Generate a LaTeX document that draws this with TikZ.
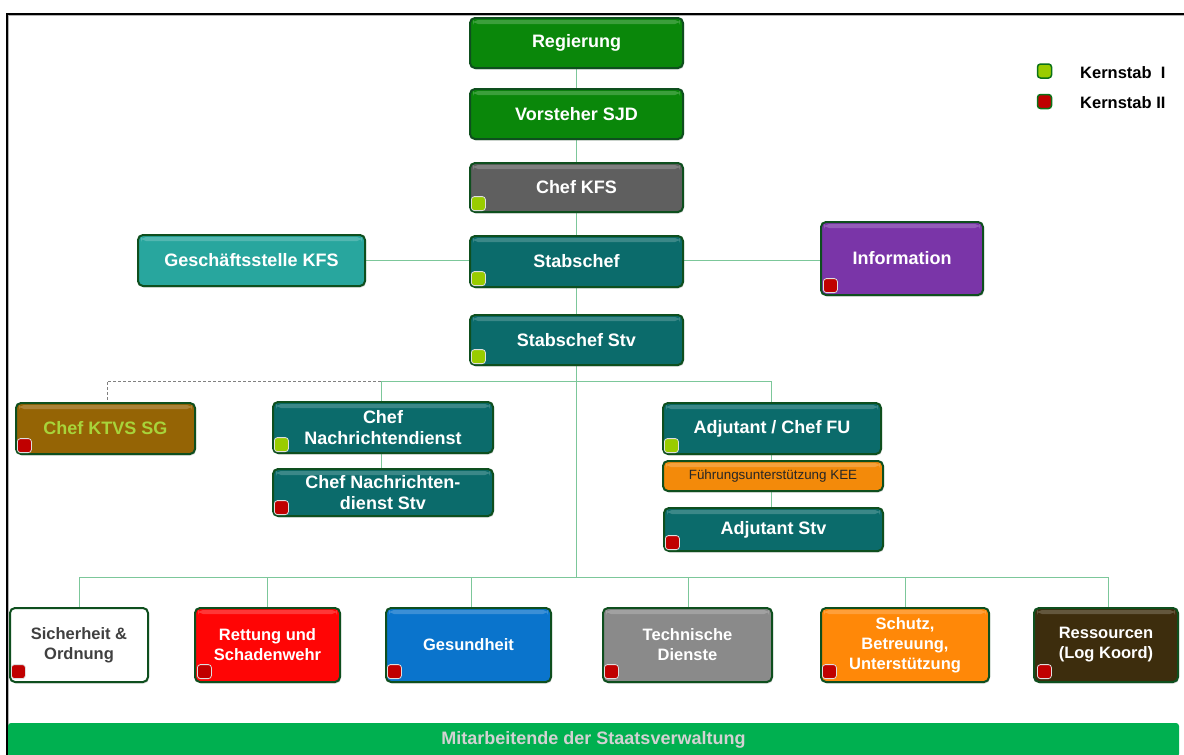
\documentclass[tikz,border=0pt]{standalone}
\usepackage{fontspec}
\setmainfont{Liberation Sans}
\usetikzlibrary{shadows}
\definecolor{bordergreen}{HTML}{0E4F1E}
\definecolor{conngreen}{HTML}{7CC79A}
\definecolor{topgreen}{HTML}{0A870A}
\definecolor{kfsgrey}{HTML}{5F5F5F}
\definecolor{teal}{HTML}{0B6B6B}
\definecolor{gsteal}{HTML}{28A69E}
\definecolor{infopurple}{HTML}{7A35A8}
\definecolor{ktvsbrown}{HTML}{956405}
\definecolor{ktvstext}{HTML}{A8D43A}
\definecolor{keeorange}{HTML}{F38A0A}
\definecolor{rescred}{HTML}{FF0505}
\definecolor{healthblue}{HTML}{0A74CC}
\definecolor{techgrey}{HTML}{8A8A8A}
\definecolor{protorange}{HTML}{FF8808}
\definecolor{resbrown}{HTML}{3D2D0D}
\definecolor{barGreen}{HTML}{00B050}
\definecolor{bartext}{HTML}{D2D2D2}
\definecolor{kgreen}{HTML}{99CC00}
\definecolor{kred}{HTML}{C00000}
\definecolor{darktext}{HTML}{404040}
\begin{document}
\begin{tikzpicture}[x=1pt,y=-1pt,
  box/.style={draw=bordergreen, line width=2pt, rounded corners=5pt, text=white,
    font=\fontsize{18}{21}\selectfont\bfseries, align=center, inner sep=0pt,
    drop shadow={opacity=0.3, shadow xshift=1pt, shadow yshift=-1.5pt},
    path picture={\fill[white,opacity=0.2] ([xshift=3pt,yshift=-2pt]path picture bounding box.north west) rectangle ([xshift=-3pt,yshift=-6pt]path picture bounding box.north east);}},
  lowbox/.style={box, minimum height=74pt, font=\fontsize{16.5}{20}\selectfont\bfseries},
  badge/.style={draw=white!75!gray, line width=0.8pt, rounded corners=3pt, minimum size=14pt, inner sep=0pt, anchor=south west},
  gbadge/.style={badge, fill=kgreen},
  rbadge/.style={badge, fill=kred},
  conn/.style={draw=conngreen, line width=1pt},
  dconn/.style={draw=gray, line width=0.9pt, dashed, dash pattern=on 3pt off 2pt},
  legbadge/.style={draw=bordergreen!80!green, line width=1.5pt, fill=#1, rounded corners=3pt, minimum size=14pt, inner sep=0pt},
  legtext/.style={anchor=west, font=\fontsize{16.5}{20}\selectfont\bfseries, text=black, inner sep=0pt}
]
\useasboundingbox (0,0) rectangle (1184,755);
\clip (0,0) rectangle (1184,755);
\fill[white] (0,0) rectangle (1184,755);
% frame
\draw[gray!60, line width=1pt] (8.5,755) -- (8.5,15.5) -- (1184,15.5);
\draw[black, line width=2pt] (7,755) -- (7,14) -- (1184,14);

% junction coordinates
\coordinate (jm) at (576.5,381);
\coordinate (jl) at (381,381);
\coordinate (jr) at (771,381);
\coordinate (jd) at (107,381);
\coordinate (jb) at (576.5,577);
\coordinate (bl) at (79,577);
\coordinate (br) at (1108,577);

% connectors (drawn first, behind boxes)
\draw[conn] (576.5,43) coordinate (regc) -- (jb);
\draw[conn] (251.5,260) coordinate (gsc) -- (902,260) coordinate (infc);
\draw[conn] (jl) -- (jr);
\draw[dconn] (jl) -- (jd) -- (107,402) coordinate (ktvstop);
\draw[conn] (jl) -- (381,492) coordinate (ndsc);
\draw[conn] (jr) -- (771,529) coordinate (adjc);
\draw[conn] (bl) -- (br);
\foreach \xx in {79,267.5,471,688,905,1108}{
  \draw[conn] (\xx,577) -- (\xx,645);
}

% top chain
\node[box, fill=topgreen, minimum width=213pt, minimum height=50pt] (reg) at (576.5,43) {Regierung};
\node[box, fill=topgreen, minimum width=213pt, minimum height=50pt] (vor) at (576.5,114) {Vorsteher SJD};
\node[box, fill=kfsgrey, minimum width=213pt, minimum height=49pt] (kfs) at (576.5,187.5) {Chef KFS};
\node[box, fill=teal, minimum width=213pt, minimum height=51pt] (sc) at (576.5,261.5) {Stabschef};
\node[box, fill=teal, minimum width=213pt, minimum height=50pt] (scs) at (576.5,340) {Stabschef Stv};
\node[box, fill=gsteal, minimum width=227pt, minimum height=51pt] (gs) at (251.5,260.5) {Geschäftsstelle KFS};
\node[box, fill=infopurple, minimum width=162pt, minimum height=73pt] (info) at (902,258.5) {Information};

% middle
\node[box, fill=ktvsbrown, text=ktvstext, minimum width=179pt, minimum height=51pt] (ktvs) at (105.5,428.5) {Chef KTVS SG};
\node[box, fill=teal, minimum width=220pt, minimum height=51pt] (nd) at (383,427.5) {Chef\\Nachrichtendienst};
\node[box, fill=teal, minimum width=220pt, minimum height=47pt] (nds) at (383,492.5) {Chef Nachrichten-\\dienst Stv};
\node[box, fill=teal, minimum width=218pt, minimum height=51pt] (fu) at (772,428.5) {Adjutant / Chef FU};
\node[box, fill=keeorange, text=black!85, font=\fontsize{13.4}{16}\selectfont, minimum width=220pt, minimum height=30pt] (kee) at (773,476) {Führungsunterstützung KEE};
\node[box, fill=teal, minimum width=219pt, minimum height=43pt] (adj) at (773.5,529.5) {Adjutant Stv};

% bottom row
\node[lowbox, fill=white, text=darktext, minimum width=138pt] (so) at (79,645) {Sicherheit \&\\Ordnung};
\node[lowbox, fill=rescred, minimum width=145pt] (rs) at (267.5,645) {Rettung und\\Schadenwehr};
\node[lowbox, fill=healthblue, minimum width=165pt] (ge) at (468.5,645) {Gesundheit};
\node[lowbox, fill=techgrey, minimum width=169pt] (td) at (687.5,645) {Technische\\Dienste};
\node[lowbox, fill=protorange, minimum width=168pt] (sb) at (905,645) {Schutz,\\Betreuung,\\Unterstützung};
\node[lowbox, fill=resbrown, minimum width=144pt] (rl) at (1106,645) {Ressourcen\\(Log Koord)};

% bottom bar
\node[fill=barGreen, rounded corners=3pt, minimum width=1171pt, minimum height=34pt, inner sep=0pt,
  text=bartext, font=\fontsize{18}{21}\selectfont\bfseries] (mit) at (593.5,740) {Mitarbeitende der Staatsverwaltung};

% badges
\node[gbadge] (kfsb) at ([shift={(2,-2)}]kfs.south west) {};
\node[gbadge] (scb) at ([shift={(2,-2)}]sc.south west) {};
\node[gbadge] (scsb) at ([shift={(2,-2)}]scs.south west) {};
\node[rbadge] (infob) at ([shift={(3,-3)}]info.south west) {};
\node[rbadge] (ktvsb) at ([shift={(2,-2)}]ktvs.south west) {};
\node[gbadge] (ndb) at ([shift={(2,-2)}]nd.south west) {};
\node[rbadge] (ndsb) at ([shift={(2,-2)}]nds.south west) {};
\node[gbadge] (fub) at ([shift={(2,-2)}]fu.south west) {};
\node[rbadge] (adjb) at ([shift={(2,-2)}]adj.south west) {};
\node[rbadge] (sob) at ([shift={(2,-4)}]so.south west) {};
\node[rbadge] (rsb) at ([shift={(3,-4)}]rs.south west) {};
\node[rbadge] (geb) at ([shift={(2,-4)}]ge.south west) {};
\node[rbadge] (tdb) at ([shift={(2,-4)}]td.south west) {};
\node[rbadge] (sbb) at ([shift={(2,-4)}]sb.south west) {};
\node[rbadge] (rlb) at ([shift={(4,-4)}]rl.south west) {};

% legend
\node[legbadge=kgreen] (l1) at (1044.5,71) {};
\node[legbadge=kred] (l2) at (1044.5,101.5) {};
\node[legtext] (l1t) at (1080,73) {Kernstab\ \ I};
\node[legtext] (l2t) at (1080,103) {Kernstab II};
\end{tikzpicture}
\end{document}
